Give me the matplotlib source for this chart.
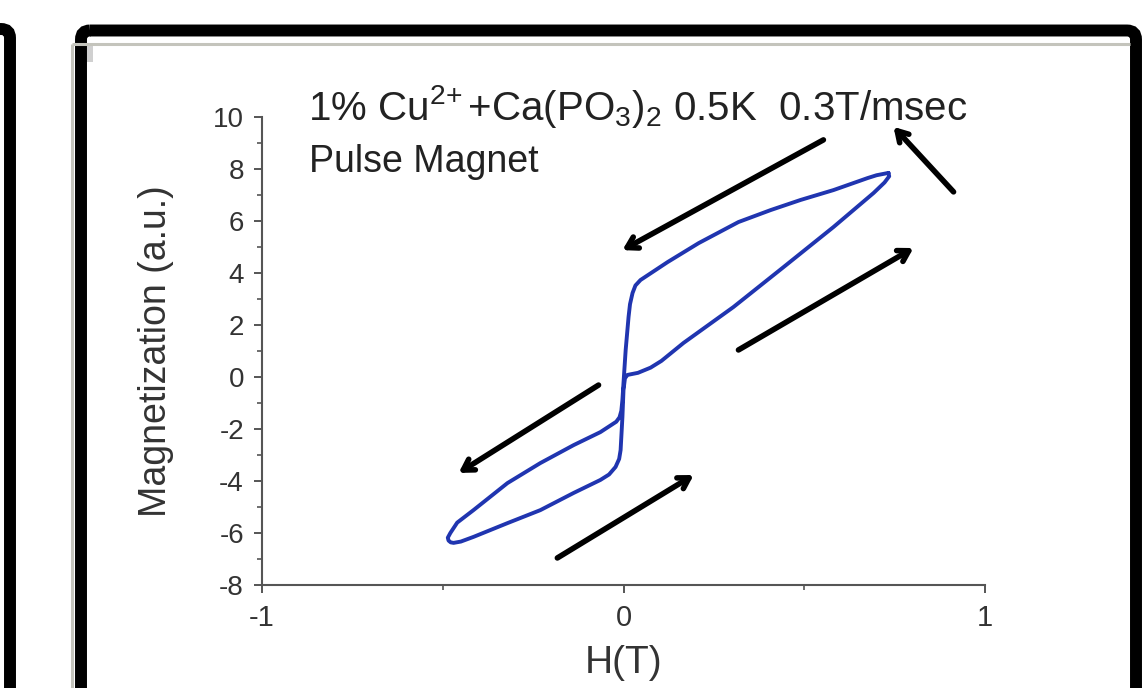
import matplotlib
matplotlib.use("Agg")
import matplotlib.pyplot as plt
from matplotlib.patches import FancyBboxPatch, Rectangle

plt.rcParams['font.family'] = ['Liberation Sans', 'DejaVu Sans']
plt.rcParams['mathtext.fontset'] = 'custom'
plt.rcParams['mathtext.rm'] = 'Liberation Sans'
plt.rcParams['mathtext.it'] = 'Liberation Sans:italic'
plt.rcParams['mathtext.bf'] = 'Liberation Sans:bold'

# ---- data: hysteresis loop, H (T) and magnetization (a.u.) ----
H_down = [0.733, 0.700, 0.675, 0.581, 0.490, 0.407, 0.318, 0.208, 0.122, 0.047,
          0.033, 0.025, 0.018, 0.014, 0.006, 0.000, -0.003, -0.006, -0.011,
          -0.020, -0.064, -0.138, -0.230, -0.321, -0.415, -0.460, -0.479,
          -0.486, -0.484, -0.478, -0.470]
M_down = [7.85, 7.76, 7.65, 7.19, 6.81, 6.42, 5.96, 5.15, 4.42, 3.73,
          3.52, 3.23, 2.80, 2.31, 1.04, -0.23, -0.88, -1.30, -1.55,
          -1.72, -2.12, -2.62, -3.31, -4.08, -5.12, -5.60, -6.00,
          -6.18, -6.29, -6.36, -6.38]
H_up = [-0.470, -0.450, -0.415, -0.321, -0.230, -0.138, -0.064, -0.040, -0.022,
        -0.012, -0.008, -0.003, 0.000, 0.004, 0.011, 0.040, 0.075, 0.105, 0.166,
        0.304, 0.443, 0.581, 0.692, 0.722, 0.735, 0.733]
M_up = [-6.38, -6.33, -6.15, -5.62, -5.12, -4.46, -3.96, -3.75, -3.46,
        -3.15, -2.81, -1.54, -0.50, -0.05, 0.08, 0.16, 0.36, 0.62, 1.31,
        2.69, 4.23, 5.77, 7.08, 7.48, 7.72, 7.85]

x_ticks = [-1, 0, 1]
y_ticks = [-8, -6, -4, -2, 0, 2, 4, 6, 8, 10]

title_line1 = r'1% Cu$^{2\!+}$+Ca(PO$_3$)$_2$ 0.5K  0.3T/msec'
title_line2 = 'Pulse Magnet'

# arrows: (tail, head) in data units
arrow_tails = [(0.553, 9.12), (0.913, 7.12), (0.318, 1.04), (-0.069, -0.31), (-0.183, -6.96)]
arrow_heads = [(-0.003, 4.88), (0.747, 9.62), (0.802, 4.96), (-0.456, -3.69), (0.194, -3.77)]

W, Hh = 1146, 688
fig = plt.figure(figsize=(W / 100, Hh / 100), dpi=100)
fig.patch.set_facecolor('white')

# overlay for the frame decorations (pixel coordinates)
ov = fig.add_axes([0, 0, 1, 1], zorder=0)
ov.set_xlim(0, W)
ov.set_ylim(Hh, 0)
ov.axis('off')
ov.plot([72, 1130], [44, 44], color='#c4c4bc', lw=2.2, solid_capstyle='butt')
ov.plot([71.5, 71.5], [44, Hh], color='#c4c4bc', lw=2.2, solid_capstyle='butt')
ov.add_patch(Rectangle((87, 45), 6, 17, color='#d0d0d0', lw=0))
ov.add_patch(FancyBboxPatch((81, 30.5), 1055, 700, boxstyle='round,pad=0,rounding_size=9',
                            fill=False, ec='black', lw=8.6))
ov.add_patch(FancyBboxPatch((-200, 29), 210, 700, boxstyle='round,pad=0,rounding_size=9',
                            fill=False, ec='black', lw=8.6))

ax = fig.add_axes([262 / W, 1 - 585 / Hh, (985 - 262) / W, (585 - 117) / Hh], zorder=2)
ax.patch.set_alpha(0)
ax.plot(H_down + H_up, M_down + M_up, color='#2035b0', lw=2.8,
        solid_joinstyle='round', solid_capstyle='round')

ax.set_xlim(-1, 1)
ax.set_ylim(-8, 10)
ax.set_xticks(x_ticks)
ax.set_xticklabels([str(v) for v in x_ticks])
ax.set_yticks(y_ticks)
ax.set_yticklabels([str(v) for v in y_ticks])
ax.set_xticks([-0.5, 0.5], minor=True)
ax.set_yticks([-7, -5, -3, -1, 1, 3, 5, 7, 9], minor=True)
for s in ['top', 'right']:
    ax.spines[s].set_visible(False)
for s in ['left', 'bottom']:
    ax.spines[s].set_color('#555555')
    ax.spines[s].set_linewidth(1.5)
ax.tick_params(which='major', direction='out', length=6, width=1.4, color='#555555')
ax.tick_params(which='minor', direction='out', length=3.5, width=1.2, color='#555555')
ax.tick_params(axis='y', labelsize=20, labelcolor='#333333', pad=7)
ax.tick_params(axis='x', labelsize=21, labelcolor='#333333', pad=8)

ax.set_xlabel('H(T)', fontsize=28, color='#333333', labelpad=9)
ax.set_ylabel('Magnetization (a.u.)', fontsize=27, color='#333333', labelpad=28)

ax.text(0.063, 0.9936, title_line1, transform=ax.transAxes, fontsize=29,
        color='#222222', ha='left', va='baseline')
ax.text(0.065, 0.8825, title_line2, transform=ax.transAxes, fontsize=27,
        color='#222222', ha='left', va='baseline')

for (tx, ty), (hx, hy) in zip(arrow_tails, arrow_heads):
    ax.annotate('', xy=(hx, hy), xytext=(tx, ty), annotation_clip=False,
                arrowprops=dict(arrowstyle='->,head_length=0.75,head_width=0.45',
                                color='black', lw=4.0, shrinkA=0, shrinkB=0))

fig.savefig('out.png', dpi=100, facecolor='white')
